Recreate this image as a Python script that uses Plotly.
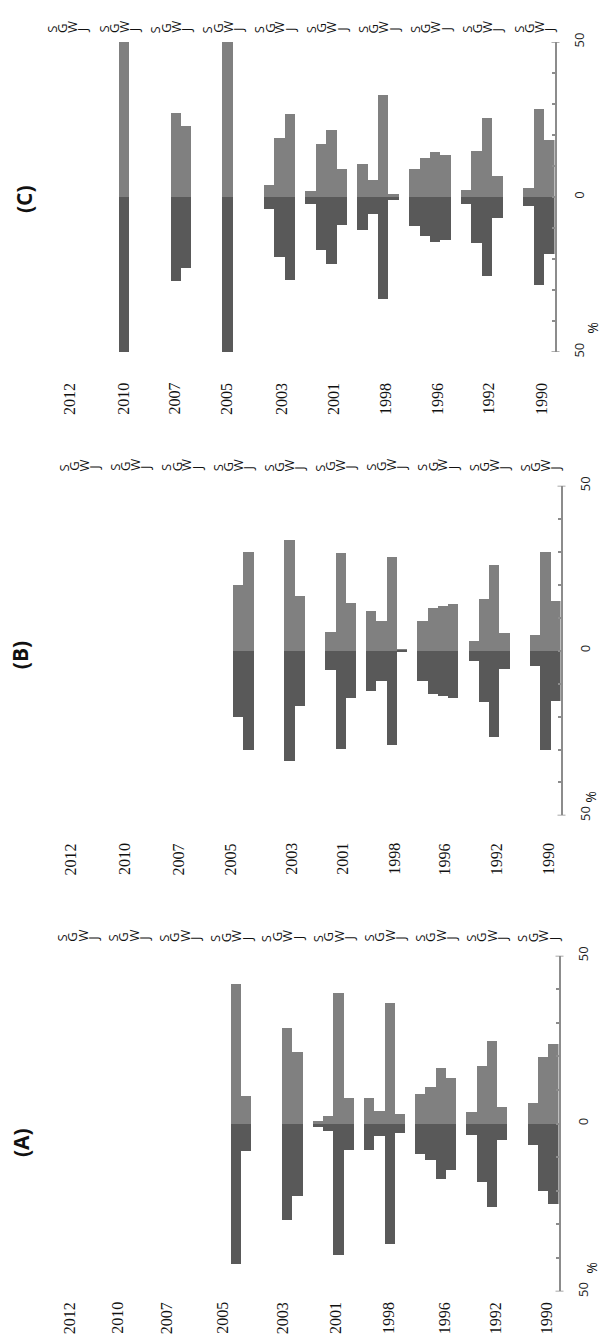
import plotly.graph_objects as go

# Survey rounds (left to right) and the four series shown for each round
years = ["2012", "2010", "2007", "2005", "2003", "2001", "1998", "1996", "1992", "1990"]
series = ["S", "G", "W", "J"]

# Panel A shares (%) per round, one list per series
a_s = [0, 0, 0, 0, 0, 1.0, 7.7, 9.0, 3.4, 0]
a_g = [0, 0, 0, 0, 0, 2.2, 3.7, 10.9, 17.2, 6.3]
a_w = [0, 0, 0, 41.7, 28.6, 39.0, 35.9, 16.5, 24.7, 19.9]
a_j = [0, 0, 0, 8.2, 21.5, 7.7, 2.8, 13.6, 4.9, 23.9]

# Panel B
b_s = [0, 0, 0, 0, 0, 0, 12.1, 9.1, 3.0, 0]
b_g = [0, 0, 0, 0, 0, 5.7, 9.1, 13.1, 15.6, 4.7]
b_w = [0, 0, 0, 20.0, 33.5, 29.8, 28.5, 13.6, 26.1, 30.1]
b_j = [0, 0, 0, 30.1, 16.7, 14.4, 0.3, 14.2, 5.5, 15.2]

# Panel C
c_s = [0, 0, 0, 0, 0, 2.1, 10.6, 9.2, 2.3, 0]
c_g = [0, 0, 0, 0, 3.8, 17.0, 5.4, 12.7, 14.9, 2.9]
c_w = [0, 50, 27.2, 50, 19.2, 21.7, 32.9, 14.4, 25.6, 28.5]
c_j = [0, 0, 22.8, 0, 26.9, 8.9, 1.0, 13.7, 6.8, 18.4]

W, H = 602, 1339
LIGHT = "rgb(128,128,128)"
DARK = "rgb(89,89,89)"
AXIS = "rgb(140,140,140)"
SANS = "Open Sans"
SERIF = "Liberation Serif"

# Pixel boxes of each panel: left, right, top(+50), bottom(-50)
panels = [
    dict(name="(C)", data=[c_s, c_g, c_w, c_j], box=(46, 554.5, 33.3, 346.7),
         year_px=[69, 122.8, 174.5, 226, 281, 333, 385, 437, 488.5, 541], year_top=376,
         letter_gap=7, title_xy=(24, 192), pct_xy=(593, 322)),
    dict(name="(B)", data=[b_s, b_g, b_w, b_j], box=(58.7, 560.5, 481.7, 815),
         year_px=[70.2, 124.7, 178.4, 230.2, 291.6, 342.6, 394.5, 444.3, 496.1, 547.9], year_top=841,
         letter_gap=12.5, title_xy=(20, 653), pct_xy=(591, 796)),
    dict(name="(A)", data=[a_s, a_g, a_w, a_j], box=(57, 558.5, 956.7, 1296),
         year_px=[69, 117.5, 166, 222.5, 282, 335.7, 388.7, 444, 495, 546], year_top=1305,
         letter_gap=12, title_xy=(21, 1146), pct_xy=(592, 1272)),
]

NSLOT = len(years) * (len(series) + 1)

fig = go.Figure()
annotations = []
shapes = []


def px_x(v):
    return v / W


def px_y(v):
    return 1 - v / H


for i, p in enumerate(panels):
    k = "" if i == 0 else str(i + 1)
    xa, ya = "x" + k, "y" + k
    left, right, top, bottom = p["box"]

    xs, vals = [], []
    for yi in range(len(years)):
        for si in range(len(series)):
            xs.append(yi * (len(series) + 1) + si)
            vals.append(p["data"][si][yi])

    # upper half light, lower half dark, both from the same share
    fig.add_trace(go.Bar(x=xs, y=vals, base=0, width=1, marker=dict(color=LIGHT, line=dict(width=0)),
                         xaxis=xa, yaxis=ya, showlegend=False, hoverinfo="skip"))
    fig.add_trace(go.Bar(x=xs, y=[-v for v in vals], base=0, width=1, marker=dict(color=DARK, line=dict(width=0)),
                         xaxis=xa, yaxis=ya, showlegend=False, hoverinfo="skip"))

    fig.layout["xaxis" + k] = dict(domain=[px_x(left), px_x(right)], range=[-0.5, NSLOT - 1.5],
                                   anchor=ya, showline=False, showgrid=False, zeroline=False,
                                   showticklabels=False, ticks="", fixedrange=True)
    fig.layout["yaxis" + k] = dict(domain=[px_y(bottom), px_y(top)], range=[-50, 50], anchor=xa,
                                   side="right", showgrid=False, zeroline=False,
                                   showline=True, linecolor=AXIS, linewidth=2,
                                   ticks="inside", ticklen=3, tickcolor=AXIS, tickwidth=1.5,
                                   tickvals=list(range(-50, 51, 10)),
                                   ticktext=["50"] + [""] * 4 + ["0"] + [""] * 4 + ["50"],
                                   tickangle=-90, ticklabelstandoff=12,
                                   tickfont=dict(family=SANS, size=13, color="#222"))

    # end caps of the value axis
    for yv in (-50, 50):
        shapes.append(dict(type="line", xref="paper", yref=ya, x0=px_x(right - 3), x1=px_x(right + 5),
                           y0=yv, y1=yv, line=dict(color=AXIS, width=1.5)))

    # series letters above every slot
    for yi in range(len(years)):
        for si, s in enumerate(series):
            annotations.append(dict(text=s, x=yi * (len(series) + 1) + si, xref=xa,
                                    y=px_y(top - p["letter_gap"]), yref="paper",
                                    xanchor="center", yanchor="bottom", textangle=-90, showarrow=False,
                                    font=dict(family=SANS, size=13, color="#111")))

    # round labels under the panel
    for yr, xp in zip(years, p["year_px"]):
        annotations.append(dict(text=yr, x=px_x(xp), xref="paper", y=px_y(p["year_top"]), yref="paper",
                                xanchor="center", yanchor="top", textangle=-90, showarrow=False,
                                font=dict(family=SERIF, size=16, color="#111")))

    tx, ty = p["title_xy"]
    annotations.append(dict(text="<b>%s</b>" % p["name"], x=px_x(tx), y=px_y(ty), xref="paper", yref="paper",
                            xanchor="center", yanchor="middle", textangle=-90, showarrow=False,
                            font=dict(family=SANS, size=21, color="#111")))
    qx, qy = p["pct_xy"]
    annotations.append(dict(text="%", x=px_x(qx), y=px_y(qy), xref="paper", yref="paper",
                            xanchor="center", yanchor="middle", textangle=-90, showarrow=False,
                            font=dict(family=SANS, size=14, color="#111")))

fig.update_layout(width=W, height=H, margin=dict(l=0, r=0, t=0, b=0), barmode="relative", bargap=0,
                  plot_bgcolor="white", paper_bgcolor="white", annotations=annotations, shapes=shapes)

fig.write_html("out.html", config={"displayModeBar": False})
